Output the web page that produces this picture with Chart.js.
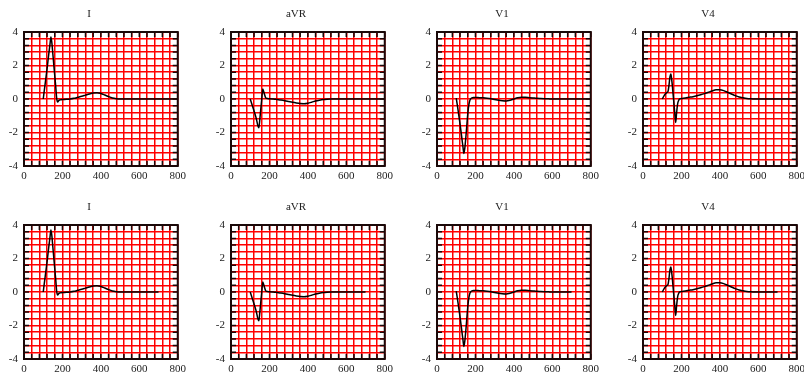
<!DOCTYPE html>
<html>
<head>
<meta charset="utf-8">
<script src="https://cdn.jsdelivr.net/npm/chart.js@4"></script>
<style>
  body { margin: 0; background: #fff; }
  #wrap { position: relative; width: 804px; height: 374px; overflow: hidden; }
  canvas { position: absolute; }
</style>
</head>
<body>
<div id="wrap"></div>
<script>
// sample times (ms)
const times = [100,105,110,115,120,125,130,135,140,145,150,155,160,165,170,175,180,185,190,195,200,
  220,240,260,280,300,320,340,360,380,400,420,440,460,480,500,520,540,560,580,600,
  620,640,660,680,700,720,740,760,780,800];

const leadNames = ['I', 'aVR', 'V1', 'V4'];

const leadI = [0,0.45,0.9,1.35,1.8,2.3,2.8,3.25,3.7,3.35,2.7,2.05,1.4,0.75,0.05,-0.18,-0.1,-0.06,-0.05,-0.04,-0.03,
  -0.02,0,0.04,0.1,0.16,0.23,0.3,0.36,0.38,0.33,0.24,0.14,0.06,0.02,0,0,0,0,0,0,
  0,0,0,0,0,0,0,0,0,0];

const leadAVR = [0,-0.18,-0.36,-0.54,-0.72,-0.9,-1.1,-1.35,-1.6,-1.72,-1.2,-0.6,0,0.6,0.45,0.25,0.08,0.04,0.03,0.02,0.02,
  0,-0.03,-0.06,-0.1,-0.15,-0.2,-0.24,-0.27,-0.28,-0.25,-0.19,-0.12,-0.07,-0.03,-0.01,0,0,0,0,0,
  0,0,0,0,0,0,0,0,0,0];

const leadV1 = [0.05,-0.3,-0.7,-1.1,-1.5,-1.95,-2.4,-2.85,-3.25,-2.9,-2.3,-1.6,-0.9,-0.4,-0.12,0,0.06,0.08,0.09,0.09,0.09,
  0.08,0.07,0.05,0.02,-0.03,-0.08,-0.11,-0.12,-0.08,0,0.07,0.1,0.1,0.08,0.06,0.04,0.03,0.02,0.01,0,
  0,0,0,0,0,0,0,0,0,0];

const leadV4 = [0,0.1,0.2,0.28,0.35,0.4,0.45,0.8,1.3,1.5,1.1,0.5,-0.15,-0.8,-1.4,-0.8,-0.3,-0.1,0,0.02,0.03,
  0.06,0.1,0.14,0.19,0.25,0.32,0.4,0.48,0.55,0.55,0.5,0.4,0.3,0.2,0.12,0.07,0.03,0.01,0,0,
  0,0,0,0,0,0,0,0,0,0];

const leads = [leadI, leadAVR, leadV1, leadV4];
const rowEnds = [800, 700];   // last sample time drawn in each row

const xTickLabels = [0, 200, 400, 600, 800];
const yTickLabels = [-4, -2, 0, 2, 4];

// layout of plot areas
const plotLefts = [24, 231, 437, 643];
const plotTops = [32, 225];
const plotW = 154, plotH = 134;
const axisW = 24, titleH = 32, axisH = 22, padR = 12;

const serif = { family: '"Liberation Serif", "DejaVu Serif", serif', size: 11, weight: 'normal' };

const frameTicks = {
  id: 'frameTicks',
  afterDraw(chart) {
    const { ctx, chartArea: a, scales: { x, y } } = chart;
    ctx.save();
    ctx.strokeStyle = '#1a0808';
    ctx.lineWidth = 1.5;
    ctx.beginPath();
    x.ticks.forEach(t => {
      const px = x.getPixelForValue(t.value);
      ctx.moveTo(px, a.top); ctx.lineTo(px, a.top + 5);
      ctx.moveTo(px, a.bottom); ctx.lineTo(px, a.bottom - 5);
    });
    y.ticks.forEach(t => {
      const py = y.getPixelForValue(t.value);
      ctx.moveTo(a.left, py); ctx.lineTo(a.left + 5, py);
      ctx.moveTo(a.right, py); ctx.lineTo(a.right - 5, py);
    });
    ctx.stroke();
    ctx.lineWidth = 2;
    ctx.strokeRect(a.left, a.top, a.right - a.left, a.bottom - a.top);
    ctx.restore();
  }
};

const wrap = document.getElementById('wrap');

rowEnds.forEach((end, r) => {
  leads.forEach((vals, c) => {
    const cv = document.createElement('canvas');
    cv.width = axisW + plotW + padR;
    cv.height = titleH + plotH + axisH;
    cv.style.left = (plotLefts[c] - axisW) + 'px';
    cv.style.top = (plotTops[r] - titleH) + 'px';
    wrap.appendChild(cv);

    const pts = [];
    times.forEach((t, i) => { if (t <= end) pts.push({ x: t, y: vals[i] }); });

    new Chart(cv, {
      type: 'line',
      data: {
        datasets: [{
          data: pts,
          borderColor: '#000',
          borderWidth: 1.5,
          pointRadius: 0,
          fill: false,
          tension: 0.3,
          cubicInterpolationMode: 'monotone'
        }]
      },
      options: {
        responsive: false,
        animation: false,
        events: [],
        layout: { padding: { left: 0, right: padR, top: 0, bottom: 0 } },
        scales: {
          x: {
            type: 'linear',
            min: 0, max: 800,
            afterFit: s => { s.height = axisH; },
            grid: { color: '#ff0000', lineWidth: 1.5, drawTicks: false },
            border: { display: false },
            ticks: {
              count: 21, autoSkip: false, maxRotation: 0, padding: 4,
              color: '#222', font: serif,
              callback: v => xTickLabels.includes(Math.round(v)) ? Math.round(v) : ''
            }
          },
          y: {
            min: -4, max: 4,
            afterFit: s => { s.width = axisW; },
            grid: { color: '#ff0000', lineWidth: 1.5, drawTicks: false },
            border: { display: false },
            ticks: {
              count: 21, autoSkip: false, padding: 6,
              color: '#222', font: serif,
              callback: v => yTickLabels.some(l => Math.abs(l - v) < 1e-6) ? Math.round(v) : ''
            }
          }
        },
        plugins: {
          legend: { display: false },
          tooltip: { enabled: false },
          title: {
            display: true,
            text: leadNames[c],
            color: '#222',
            font: serif,
            padding: { top: 8, bottom: 10.8 }
          }
        }
      },
      plugins: [frameTicks]
    });
  });
});
</script>
</body>
</html>
